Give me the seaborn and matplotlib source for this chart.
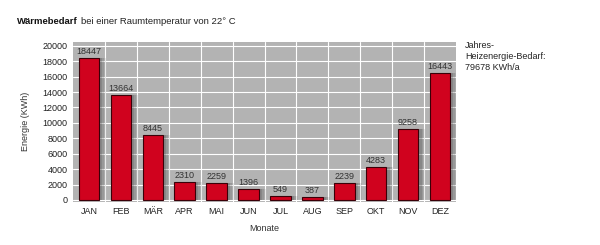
import matplotlib
matplotlib.use("Agg")
import matplotlib.pyplot as plt
import seaborn as sns
import pandas as pd
import numpy as np

months = ["JAN", "FEB", "MÄR", "APR", "MAI", "JUN", "JUL", "AUG", "SEP", "OKT", "NOV", "DEZ"]
values = [18447, 13664, 8445, 2310, 2259, 1396, 549, 387, 2239, 4283, 9258, 16443]
yticks = list(range(0, 20001, 2000))
total_text = "Jahres-\nHeizenergie-Bedarf:\n79678 KWh/a"

sns.set_theme(style="white")
plt.rcParams['font.family'] = ['Liberation Sans', 'DejaVu Sans']

df = pd.DataFrame({"Monat": months, "Energie": values})

fig = plt.figure(figsize=(6, 2.45), dpi=100)
ax = fig.add_axes([73/600, 1-201.5/245, (456-73)/600, (201.5-42)/245])
ax.set_facecolor("#b3b3b3")

# shadows
x = np.arange(len(months))
for off, a in [(0.10, 0.25), (0.16, 0.18), (0.22, 0.12)]:
    ax.bar(x + off, values, width=0.64, color="#555555", alpha=a, linewidth=0, zorder=2)

sns.barplot(data=df, x="Monat", y="Energie", color="#d0021e", width=0.64,
            edgecolor="#3a0008", linewidth=0.8, saturation=1, ax=ax, zorder=3)

for i, v in enumerate(values):
    ax.text(i, v + 250, str(v), ha="center", va="bottom", fontsize=6.5, color="#333333", zorder=4)

ax.set_ylim(-200, 20500)
ax.set_xlim(-0.5, 11.5)
ax.set_yticks(yticks)
ax.set_yticklabels([str(t) for t in yticks], fontsize=6.5, color="#222222")
ax.set_xticks(x)
ax.set_xticklabels(months, fontsize=6.5, color="#222222")
ax.tick_params(axis="both", length=0, pad=4)

for t in yticks:
    ax.axhline(t, color="white", lw=0.8, zorder=1)
for b in np.arange(0.5, 11.5, 1):
    ax.axvline(b, color="white", lw=0.8, zorder=1)

for s in ax.spines.values():
    s.set_visible(False)

ax.set_xlabel("Monate", fontsize=6.5, color="#333333", labelpad=6)
ax.set_ylabel("Energie (KWh)", fontsize=6.5, color="#333333", labelpad=9)

t1 = fig.text(17/600, 1-21/245, "Wärmebedarf", fontsize=6.8, fontweight="bold", color="#111111", va="center")
fig.canvas.draw()
bb = t1.get_window_extent(renderer=fig.canvas.get_renderer())
fig.text((bb.x1 + 3)/600, 1-21/245, "bei einer Raumtemperatur von 22° C", fontsize=6.8, color="#222222", va="center")
fig.text(465/600, 1-41/245, total_text, fontsize=6.5, color="#222222", va="top", linespacing=1.25)

fig.savefig("out.png", dpi=100)
